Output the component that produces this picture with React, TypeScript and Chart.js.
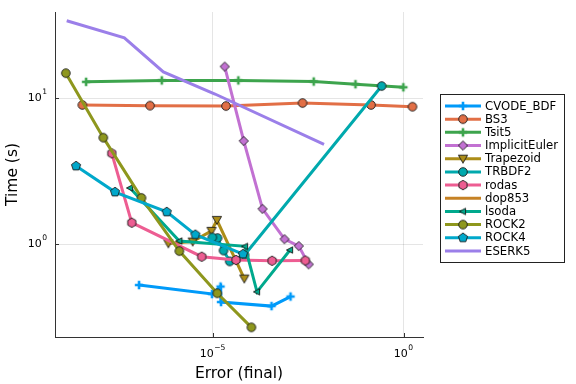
import React, { useEffect, useRef } from 'react';
import { Chart, registerables } from 'chart.js';
Chart.register(...registerables);

// ---- data (error, time) ----
const cvodeErr = [1.19e-7, 9.7e-6, 1.62e-5, 1.67e-5, 3.51e-4, 1.1e-3];
const cvodeTime = [0.524, 0.455, 0.512, 0.401, 0.376, 0.437];
const bs3Err = [3.9e-9, 2.31e-7, 2.25e-5, 2.27e-3, 0.141, 1.72];
const bs3Time = [8.96, 8.86, 8.81, 9.24, 8.96, 8.72];
const tsit5Err = [4.88e-9, 4.68e-7, 4.73e-5, 4.46e-3, 0.0553, 0.989];
const tsit5Time = [12.9, 13.2, 13.2, 12.97, 12.43, 11.84];
const implicitEulerErr = [2.08e-5, 6.56e-5, 2.04e-4, 7.68e-4, 1.81e-3, 3.3e-3];
const implicitEulerTime = [16.4, 5.08, 1.74, 1.08, 0.969, 0.726];
const trapezoidErr = [6.97e-7, 3.03e-6, 9.4e-6, 1.3e-5, 6.79e-5];
const trapezoidTime = [1.01, 1.04, 1.23, 1.46, 0.58];
const trbdf2Err = [0.268, 6.89e-5, 2.82e-5, 1.94e-5, 1.35e-5, 9.9e-6];
const trbdf2Time = [12.08, 0.841, 0.761, 0.903, 1.1, 1.11];
const rodasErr = [2.3e-8, 7.67e-8, 5.21e-6, 4.12e-5, 3.62e-4, 2.69e-3];
const rodasTime = [4.18, 1.4, 0.819, 0.777, 0.768, 0.771];
const dop853Err: number[] = [];
const dop853Time: number[] = [];
const lsodaErr = [6.92e-8, 1.35e-6, 7.1e-5, 1.46e-4, 1.07e-3];
const lsodaTime = [2.42, 1.05, 0.964, 0.471, 0.91];
const rock2Err = [1.44e-9, 1.38e-8, 1.38e-7, 1.35e-6, 1.33e-5, 1.04e-4];
const rock2Time = [14.8, 5.35, 2.07, 0.895, 0.46, 0.269];
const rock4Err = [2.67e-9, 2.8e-8, 6.32e-7, 3.55e-6, 6.28e-5];
const rock4Time = [3.42, 2.27, 1.66, 1.16, 0.854];
const eserk5Err = [1.52e-9, 4.91e-8, 5.15e-7, 1.16e-5, 8.3e-3];
const eserk5Time = [33.8, 25.8, 15.1, 10.65, 4.82];

const seriesNames = ['CVODE_BDF', 'BS3', 'Tsit5', 'ImplicitEuler', 'Trapezoid', 'TRBDF2', 'rodas', 'dop853', 'lsoda', 'ROCK2', 'ROCK4', 'ESERK5'];
const seriesColors = ['#009af9', '#e26f46', '#3da44d', '#c271d2', '#ac8d18', '#00a9ad', '#ed5d92', '#c68225', '#00a98d', '#8e971d', '#00a8cb', '#9b7fe9'];
const seriesMarkers = ['cross', 'circle', 'cross', 'diamond', 'dtriangle', 'circle', 'hexagon', 'none', 'ltriangle', 'circle', 'pentagon', 'none'];
const seriesErr = [cvodeErr, bs3Err, tsit5Err, implicitEulerErr, trapezoidErr, trbdf2Err, rodasErr, dop853Err, lsodaErr, rock2Err, rock4Err, eserk5Err];
const seriesTime = [cvodeTime, bs3Time, tsit5Time, implicitEulerTime, trapezoidTime, trbdf2Time, rodasTime, dop853Time, lsodaTime, rock2Time, rock4Time, eserk5Time];

const xTicks = [1e-5, 1];
const xTickExp = ['−5', '0'];
const yTicks = [1, 10];
const yTickExp = ['0', '1'];

const FONT = '"DejaVu Sans", sans-serif';

function makeMarker(shape: string, color: string): HTMLCanvasElement {
  const s = 16;
  const c = document.createElement('canvas');
  c.width = s;
  c.height = s;
  const g = c.getContext('2d')!;
  const cx = s / 2, cy = s / 2;
  g.fillStyle = color;
  g.strokeStyle = '#1a1a1a';
  g.lineWidth = 0.9;
  const poly = (pts: number[][]) => {
    g.beginPath();
    pts.forEach((p, i) => (i ? g.lineTo(p[0], p[1]) : g.moveTo(p[0], p[1])));
    g.closePath();
    g.fill();
    g.stroke();
  };
  const reg = (n: number, r: number, a0: number) => {
    const pts: number[][] = [];
    for (let k = 0; k < n; k++) {
      const a = a0 + (k * 2 * Math.PI) / n;
      pts.push([cx + r * Math.cos(a), cy + r * Math.sin(a)]);
    }
    poly(pts);
  };
  if (shape === 'circle') {
    g.beginPath();
    g.arc(cx, cy, 4.3, 0, Math.PI * 2);
    g.fill();
    g.stroke();
  } else if (shape === 'cross') {
    g.strokeStyle = color;
    g.lineWidth = 2.6;
    g.beginPath();
    g.moveTo(cx - 4.2, cy);
    g.lineTo(cx + 4.2, cy);
    g.moveTo(cx, cy - 4.2);
    g.lineTo(cx, cy + 4.2);
    g.stroke();
  } else if (shape === 'diamond') {
    poly([[cx, cy - 4.6], [cx + 4.6, cy], [cx, cy + 4.6], [cx - 4.6, cy]]);
  } else if (shape === 'dtriangle') {
    poly([[cx - 4.6, cy - 3.6], [cx + 4.6, cy - 3.6], [cx, cy + 4.4]]);
  } else if (shape === 'ltriangle') {
    poly([[cx - 3.6, cy], [cx + 2.6, cy - 3.2], [cx + 2.6, cy + 3.2]]);
  } else if (shape === 'hexagon') {
    reg(6, 4.7, -Math.PI / 2);
  } else if (shape === 'pentagon') {
    reg(5, 4.8, -Math.PI / 2);
  }
  return c;
}

function drawPow(ctx: CanvasRenderingContext2D, exp: string, x: number, y: number, align: 'center' | 'right') {
  ctx.save();
  ctx.fillStyle = '#000';
  ctx.textBaseline = 'middle';
  ctx.textAlign = 'left';
  ctx.font = `11px ${FONT}`;
  const wb = ctx.measureText('10').width;
  ctx.font = `7.6px ${FONT}`;
  const we = ctx.measureText(exp).width;
  const total = wb + we + 0.5;
  const start = align === 'center' ? x - total / 2 : x - total;
  ctx.font = `11px ${FONT}`;
  ctx.fillText('10', start, y);
  ctx.font = `7.6px ${FONT}`;
  ctx.fillText(exp, start + wb + 0.5, y - 6.2);
  ctx.restore();
}

export default function App() {
  const ref = useRef<HTMLCanvasElement>(null);
  useEffect(() => {
    if (!ref.current) return;
    const markers = seriesMarkers.map((m, i) => (m === 'none' ? null : makeMarker(m, seriesColors[i])));
    const n = seriesNames.length;
    const datasets = seriesNames.map((name, i) => ({
      label: name,
      data: seriesErr[i].map((e, j) => ({ x: e, y: seriesTime[i][j] })),
      showLine: true,
      borderColor: seriesColors[i],
      backgroundColor: seriesColors[i],
      borderWidth: 3,
      tension: 0,
      pointStyle: (markers[i] || false) as any,
      pointRadius: markers[i] ? 5 : 0,
      pointHoverRadius: markers[i] ? 5 : 0,
      order: n - i,
    }));

    const overlay = {
      id: 'overlay',
      beforeDraw(chart: any) {
        const c = chart.ctx;
        c.save();
        c.fillStyle = '#fff';
        c.fillRect(0, 0, chart.width, chart.height);
        c.restore();
      },
      afterDraw(chart: any) {
        const c: CanvasRenderingContext2D = chart.ctx;
        const xs = chart.scales.x;
        const ys = chart.scales.y;
        const ca = chart.chartArea;
        c.save();
        // tick marks (inward)
        c.strokeStyle = '#333';
        c.lineWidth = 1;
        c.beginPath();
        xTicks.forEach((v) => {
          const px = Math.round(xs.getPixelForValue(v)) + 0.5;
          c.moveTo(px, ca.bottom);
          c.lineTo(px, ca.bottom - 4);
        });
        yTicks.forEach((v) => {
          const py = Math.round(ys.getPixelForValue(v)) + 0.5;
          c.moveTo(ca.left, py);
          c.lineTo(ca.left + 4, py);
        });
        c.stroke();
        // tick labels
        xTicks.forEach((v, i) => drawPow(c, xTickExp[i], xs.getPixelForValue(v), ca.bottom + 17, 'center'));
        yTicks.forEach((v, i) => drawPow(c, yTickExp[i], ca.left - 8, ys.getPixelForValue(v), 'right'));
        // axis titles
        c.fillStyle = '#000';
        c.font = `15.5px ${FONT}`;
        c.textAlign = 'center';
        c.textBaseline = 'middle';
        c.fillText('Error (final)', (ca.left + ca.right) / 2, 374);
        c.save();
        c.translate(13, (ca.top + ca.bottom) / 2);
        c.rotate(-Math.PI / 2);
        c.fillText('Time (s)', 0, 0);
        c.restore();
        // legend
        const bx = 440.5, by = 94.5, bw = 124, bh = 168;
        c.fillStyle = '#fff';
        c.fillRect(bx, by, bw, bh);
        c.strokeStyle = '#222';
        c.lineWidth = 1;
        c.strokeRect(bx, by, bw, bh);
        c.font = `11.7px ${FONT}`;
        c.textAlign = 'left';
        c.textBaseline = 'middle';
        seriesNames.forEach((name, i) => {
          const y = 106 + i * 13.18;
          c.strokeStyle = seriesColors[i];
          c.lineWidth = 3;
          c.beginPath();
          c.moveTo(445, y);
          c.lineTo(481, y);
          c.stroke();
          const mk = markers[i];
          if (mk) c.drawImage(mk, 463 - mk.width / 2, y - mk.height / 2);
          c.fillStyle = '#000';
          c.fillText(name, 485, y + 0.5);
        });
        c.restore();
      },
    };

    const chart = new Chart(ref.current, {
      type: 'scatter',
      data: { datasets: datasets as any },
      options: {
        animation: false,
        responsive: false,
        maintainAspectRatio: false,
        layout: { padding: { left: 0, top: 12, right: 153, bottom: 0 } },
        plugins: { legend: { display: false }, tooltip: { enabled: false } },
        scales: {
          x: {
            type: 'logarithmic',
            min: 7.5e-10,
            max: 3.24,
            afterBuildTicks: (s: any) => {
              s.ticks = xTicks.map((v) => ({ value: v }));
            },
            afterFit: (s: any) => {
              s.height = 47;
            },
            ticks: { display: false },
            grid: { color: 'rgba(0,0,0,0.1)', lineWidth: 1, drawTicks: false },
            border: { display: true, color: '#333', width: 1 },
          },
          y: {
            type: 'logarithmic',
            min: 0.231,
            max: 38.8,
            afterBuildTicks: (s: any) => {
              s.ticks = yTicks.map((v) => ({ value: v }));
            },
            afterFit: (s: any) => {
              s.width = 55;
            },
            ticks: { display: false },
            grid: { color: 'rgba(0,0,0,0.1)', lineWidth: 1, drawTicks: false },
            border: { display: true, color: '#333', width: 1 },
          },
        },
      } as any,
      plugins: [overlay],
    });
    return () => chart.destroy();
  }, []);
  return (
    <div style={{ position: 'absolute', left: 0, top: 0, width: 576, height: 384 }}>
      <canvas ref={ref} width={576} height={384} />
    </div>
  );
}
